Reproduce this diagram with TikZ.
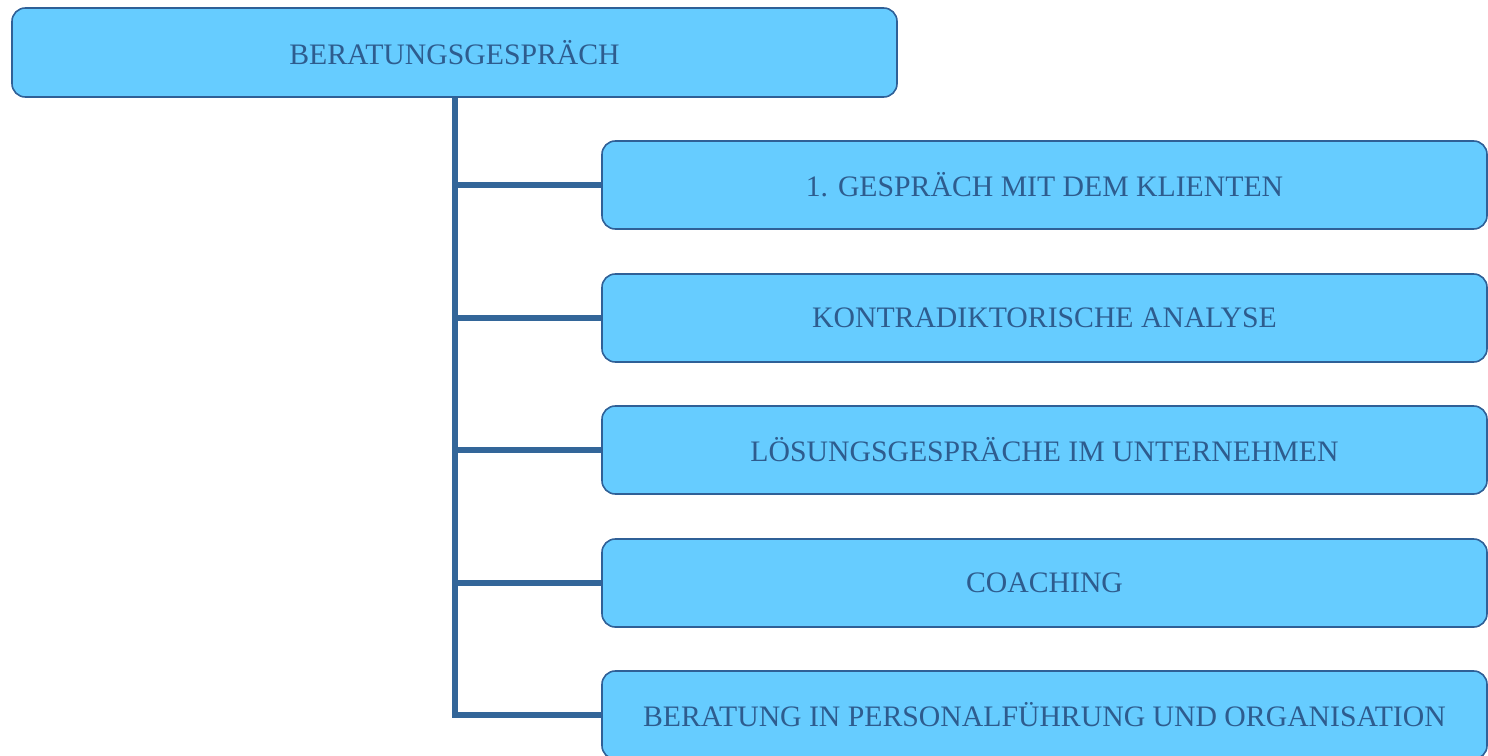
\documentclass[tikz,border=0pt]{standalone}
\usepackage{fontspec}
\setmainfont{Liberation Serif}
\definecolor{boxfill}{HTML}{66CCFF}
\definecolor{boxdraw}{HTML}{2F6097}
\definecolor{linecol}{HTML}{336699}
\definecolor{txtcol}{HTML}{2E5C8E}
\begin{document}
\begin{tikzpicture}[x=0.75pt,y=-0.75pt,
  box/.style={draw=boxdraw,line width=1.2pt,fill=boxfill,rounded corners=10pt,
    text=txtcol,font=\fontsize{22.3}{25}\selectfont,inner sep=0pt},
  conn/.style={draw=linecol,line width=4.5pt}]
\useasboundingbox (0,0) rectangle (1488,756);
\node[box,minimum width=885*0.75pt,minimum height=89*0.75pt] (root) at (454.5,52.5) {BERATUNGSGESPRÄCH};
\node[box,minimum width=885*0.75pt,minimum height=88*0.75pt] (c1) at (1044.5,185) {1. GESPRÄCH MIT DEM KLIENTEN};
\node[box,minimum width=885*0.75pt,minimum height=88*0.75pt] (c2) at (1044.5,318) {KONTRADIKTORISCHE ANALYSE};
\node[box,minimum width=885*0.75pt,minimum height=88*0.75pt] (c3) at (1044.5,450) {LÖSUNGSGESPRÄCHE IM UNTERNEHMEN};
\node[box,minimum width=885*0.75pt,minimum height=88*0.75pt] (c4) at (1044.5,583) {COACHING};
\node[box,minimum width=885*0.75pt,minimum height=88*0.75pt] (c5) at (1044.5,715) {BERATUNG IN PERSONALFÜHRUNG UND ORGANISATION};
\coordinate (t) at (455,0);
\draw[conn] (root.south -| t) -- (c5.west -| t) -- (c5.west);
\draw[conn] (c1.west -| t) -- (c1.west);
\draw[conn] (c2.west -| t) -- (c2.west);
\draw[conn] (c3.west -| t) -- (c3.west);
\draw[conn] (c4.west -| t) -- (c4.west);
\end{tikzpicture}
\end{document}
